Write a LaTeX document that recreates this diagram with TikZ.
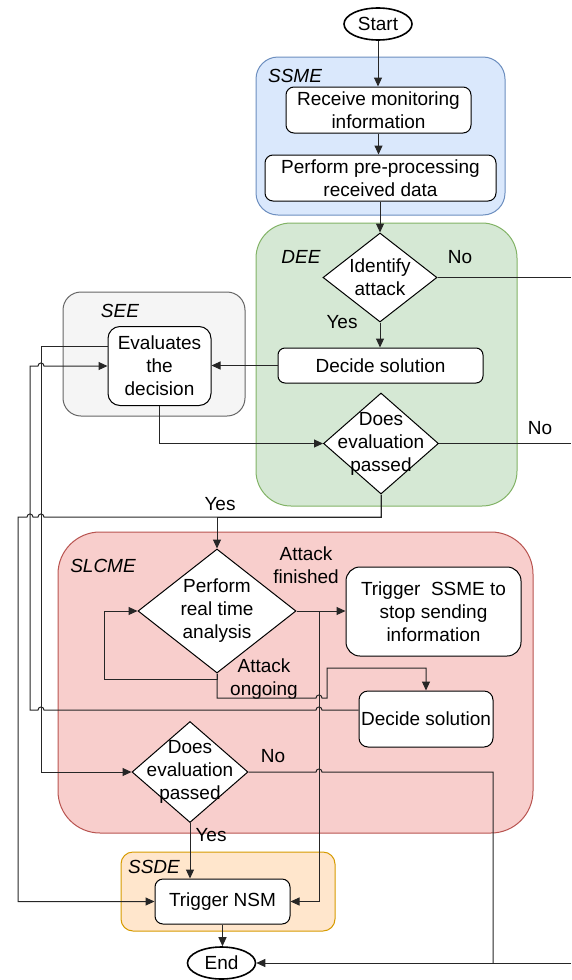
\documentclass[tikz,border=0pt]{standalone}
\usepackage{fontspec}
\setmainfont{Liberation Sans}
\usetikzlibrary{arrows.meta,shapes.geometric}
\definecolor{ssmeF}{HTML}{DAE8FC}\definecolor{ssmeD}{HTML}{6C8EBF}
\definecolor{deeF}{HTML}{D5E8D4}\definecolor{deeD}{HTML}{82B366}
\definecolor{seeF}{HTML}{F5F5F5}\definecolor{seeD}{HTML}{666666}
\definecolor{slcF}{HTML}{F8CECC}\definecolor{slcD}{HTML}{B85450}
\definecolor{ssdF}{HTML}{FFE6CC}\definecolor{ssdD}{HTML}{D79B00}
\newcommand\jumpL[2]{-- ({#1+3},{#2}) .. controls ({#1+3},{#2-4}) and ({#1-3},{#2-4}) .. ({#1-3},{#2})}
\newcommand\jumpR[2]{-- ({#1-3},{#2}) .. controls ({#1-3},{#2-4}) and ({#1+3},{#2-4}) .. ({#1+3},{#2})}
\begin{document}
\begin{tikzpicture}[x=1pt,y=-1pt,
  every node/.style={font=\fontsize{19}{23}\selectfont},
  cont/.style={line width=1pt, rounded corners=#1}, cont/.default=20pt,
  box/.style={draw, fill=white, line width=1pt, rounded corners=#1, align=center, inner sep=0pt}, box/.default=8pt,
  dia/.style={draw, fill=white, diamond, line width=1pt, inner sep=0pt},
  term/.style={draw, fill=white, ellipse, line width=1.6pt, inner sep=0pt, minimum width=68pt, minimum height=32pt},
  lbl/.style={inner sep=0pt, align=center},
  tag/.style={inner sep=0pt, font=\fontsize{19}{23}\selectfont\itshape},
  conn/.style={line width=1pt, draw=black!85},
  arr/.style={conn, -{Triangle[length=9pt,width=8pt]}},
]
\useasboundingbox (0,0) rectangle (571,980);
% containers
\draw[cont=22pt, fill=ssmeF, draw=ssmeD] (256,57) rectangle (505,215);
\draw[cont=35pt, fill=deeF, draw=deeD] (256,223) rectangle (517,506);
\draw[cont=18pt, fill=seeF, draw=seeD] (63,292) rectangle (245,416);
\draw[cont=42pt, fill=slcF, draw=slcD] (58,532) rectangle (533,833);
\draw[cont=12pt, fill=ssdF, draw=ssdD] (121,852) rectangle (335,931);
\node[tag] (tSSME) at (295,76) {SSME};
\node[tag] (tDEE) at (301,257) {DEE};
\node[tag] (tSEE) at (120,311) {SEE};
\node[tag] (tSLCME) at (103,566) {SLCME};
\node[tag] (tSSDE) at (154,867) {SSDE};
% nodes
\node[term] (start) at (378,24) {Start};
\node[box=8pt, minimum width=185pt, minimum height=46pt] (b1) at (378.5,110) {Receive monitoring\\information};
\node[box=8pt, minimum width=231pt, minimum height=46pt] (b2) at (380.5,178) {Perform pre-processing\\received data};
\node[dia, minimum width=114pt, minimum height=89pt] (d1) at (380,277.5) {};
\node[lbl] (d1t) at (d1) {Identify\\attack};
\node[box=7pt, minimum width=205pt, minimum height=35pt] (ds1) at (380.5,365.5) {Decide solution};
\node[box=12pt, minimum width=103pt, minimum height=79pt] (ev) at (159.5,366) {Evaluates\\the\\decision};
\node[dia, minimum width=115pt, minimum height=101pt] (d2) at (381,443.5) {};
\node[lbl] (d2t) at (d2) {Does\\evaluation\\passed};
\node[dia, minimum width=158pt, minimum height=124pt] (pr) at (217,611) {};
\node[lbl] (prt) at (pr) {Perform\\real time\\analysis};
\node[box=14pt, minimum width=175pt, minimum height=89pt] (tr) at (433.5,611.5) {Trigger~ SSME to\\stop sending\\information};
\node[box=9pt, minimum width=134pt, minimum height=56pt] (ds2) at (426,719) {Decide solution};
\node[dia, minimum width=116pt, minimum height=101pt] (d3) at (190,772) {};
\node[lbl] (d3t) at (d3) {Does\\evaluation\\passed};
\node[box=8pt, minimum width=135pt, minimum height=45pt] (nsm) at (222.5,901.5) {Trigger NSM};
\node[term] (end) at (221.5,963) {End};
% edge labels
\node[lbl] (lNo1) at (460,257) {No};
\node[lbl] (lYes1) at (342,322) {Yes};
\node[lbl] (lNo2) at (540,428) {No};
\node[lbl] (lYes2) at (220,504) {Yes};
\node[lbl] (lFin) at (306,565) {Attack\\finished};
\node[lbl] (lOn) at (264,679) {Attack\\ongoing};
\node[lbl] (lNo3) at (273,756) {No};
\node[lbl] (lYes3) at (211,835) {Yes};
% free ends at the right border
\coordinate (eR1) at (571,277.5);
\coordinate (eR2) at (571,443.5);
\coordinate (eR3) at (571,963);
% connectors
\draw[arr] (start.south) -- (start.south |- b1.north);
\draw[arr] (b1.south) -- (b1.south |- b2.north);
\draw[arr] (d1.north |- b2.south) -- (d1.north);
\draw[conn] (d1.east) -- (eR1);
\draw[arr] (d1.south) -- (d1.south |- ds1.north);
\draw[arr] (ds1.west) -- (ds1.west -| ev.east);
\draw[arr] (ev.south) |- (d2.west);
\draw[conn] (d2.east) -- (eR2);
\draw[arr] (d2.south) -- (381,517) -- (217,517) -- (pr.north);
\draw[arr] (d2.south) -- (381,517) \jumpL{41}{517} \jumpL{30}{517} -- (18,517) |- (nsm.west);
\draw[arr] ([yshift=20pt]ev.west) -- (41,346) |- (d3.west);
\draw[arr] ([yshift=9pt]ds2.west) \jumpL{319}{710} \jumpL{41}{710} -- (30,710) -- (30,366) \jumpR{41}{366} -- (ev.west);
\draw[arr] (pr.south) -- (217,679) -- (104,679) |- (pr.west);
\draw[arr] (pr.south) -- (217,698) \jumpR{319}{698} -- (327,698) -- (327,668) -| (ds2.north);
\draw[arr] (pr.east) -- (pr.east -| tr.west);
\draw[arr] (pr.east) -- (319,611) |- (nsm.east);
\draw[conn] (d3.east) \jumpR{319}{772} -- (493,772) -- (493,963);
\draw[arr] (eR3) -- (end.east);
\draw[arr] (d3.south) -- (d3.south |- nsm.north);
\draw[arr] (nsm.south) -- (nsm.south |- end.north);
\end{tikzpicture}
\end{document}
